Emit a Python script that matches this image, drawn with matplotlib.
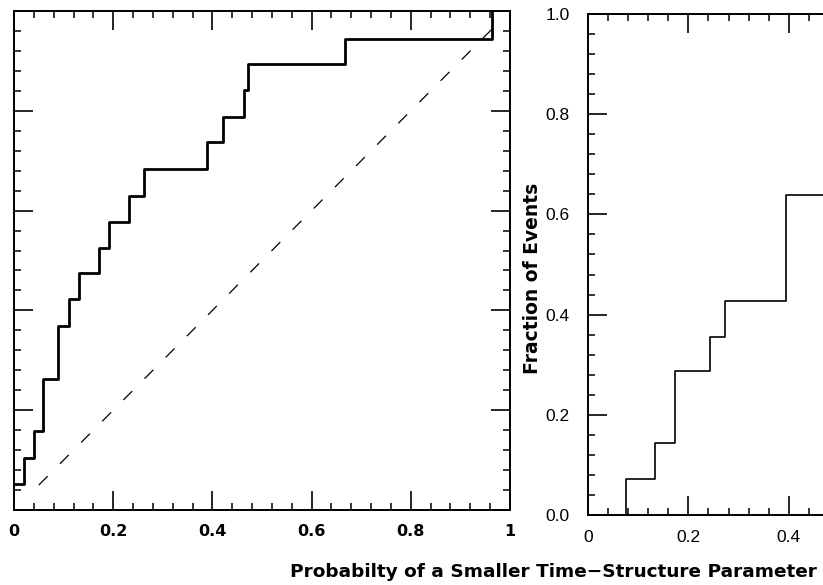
import matplotlib
matplotlib.use('Agg')
import matplotlib.pyplot as plt
from matplotlib.ticker import MultipleLocator

# ---- data ----
# Left panel: cumulative fraction of events vs probability (step curve)
left_prob = [0.0, 0.020, 0.041, 0.058, 0.089, 0.111, 0.132, 0.172, 0.192,
             0.2325, 0.263, 0.390, 0.421, 0.464, 0.472, 0.667, 0.963]
left_frac = [0.052, 0.104, 0.159, 0.263, 0.369, 0.422, 0.474, 0.526, 0.578,
             0.629, 0.683, 0.737, 0.787, 0.842, 0.894, 0.943, 1.0]
# uniform expectation (dashed diagonal)
diag_x = [0.05, 0.965]
diag_y = [0.05, 0.965]

# Right panel: cumulative fraction of events (visible part)
right_prob = [0.0, 0.0765, 0.134, 0.173, 0.244, 0.272, 0.395, 0.60]
right_frac = [0.0, 0.071, 0.143, 0.288, 0.356, 0.428, 0.639, 0.639]

left_xticks = [0, 0.2, 0.4, 0.6, 0.8, 1.0]
left_xticklabels = ['0', '0.2', '0.4', '0.6', '0.8', '1']
right_xticks = [0, 0.2, 0.4, 0.6, 0.8, 1.0]
right_xticklabels = ['0', '0.2', '0.4', '', '', '']   # the rest lie beyond the cropped edge
right_yticks = [0, 0.2, 0.4, 0.6, 0.8, 1.0]
right_yticklabels = ['0.0', '0.2', '0.4', '0.6', '0.8', '1.0']

xlabel_text = 'Probabilty of a Smaller Time\u2212Structure Parameter'
ylabel_text = 'Fraction of Events'

W, H = 823, 585
fig = plt.figure(figsize=(W / 100, H / 100), dpi=100)

def style_axes(ax):
    ax.set_xlim(0, 1)
    ax.set_ylim(0, 1)
    for s in ax.spines.values():
        s.set_linewidth(1.4)
        s.set_color('black')
    ax.xaxis.set_minor_locator(MultipleLocator(0.04))
    ax.yaxis.set_minor_locator(MultipleLocator(0.04))
    ax.tick_params(which='both', direction='in', top=True, right=True,
                   color='black')
    ax.tick_params(which='major', length=14, width=1.2)
    ax.tick_params(which='minor', length=5, width=1.1)

# Left panel
axL = fig.add_axes([14 / W, 75 / H, 496 / W, 499 / H])
style_axes(axL)
axL.step(left_prob, left_frac, where='post', color='black', lw=2.0)
axL.plot(diag_x, diag_y, color='black', lw=0.9, dashes=(10, 14))
axL.set_xticks(left_xticks)
axL.set_xticklabels(left_xticklabels, fontfamily='DejaVu Sans',
                    fontweight='bold', fontsize=11.5)
axL.set_yticks(right_yticks)
axL.tick_params(labelleft=False, pad=10)

# Right panel (extends beyond the right edge of the figure)
axR = fig.add_axes([588 / W, 70 / H, 502 / W, 501 / H])
style_axes(axR)
axR.step(right_prob, right_frac, where='post', color='black', lw=1.2)
axR.set_xticks(right_xticks)
axR.set_xticklabels(right_xticklabels, fontfamily='Liberation Sans',
                    fontsize=12.5)
axR.set_yticks(right_yticks)
axR.set_yticklabels(right_yticklabels, fontfamily='Liberation Sans',
                    fontsize=12.5)
axR.tick_params(axis='x', pad=11)
axR.tick_params(axis='y', pad=13)

fig.text(290 / W, 1 - 572 / H, xlabel_text, ha='left', va='center',
         fontfamily='DejaVu Sans', fontweight='bold', fontsize=13.3)
fig.text(532 / W, 1 - 278 / H, ylabel_text, ha='center', va='center',
         rotation=90, fontfamily='DejaVu Sans', fontweight='bold',
         fontsize=13.5)

fig.savefig('out.png', dpi=100)
